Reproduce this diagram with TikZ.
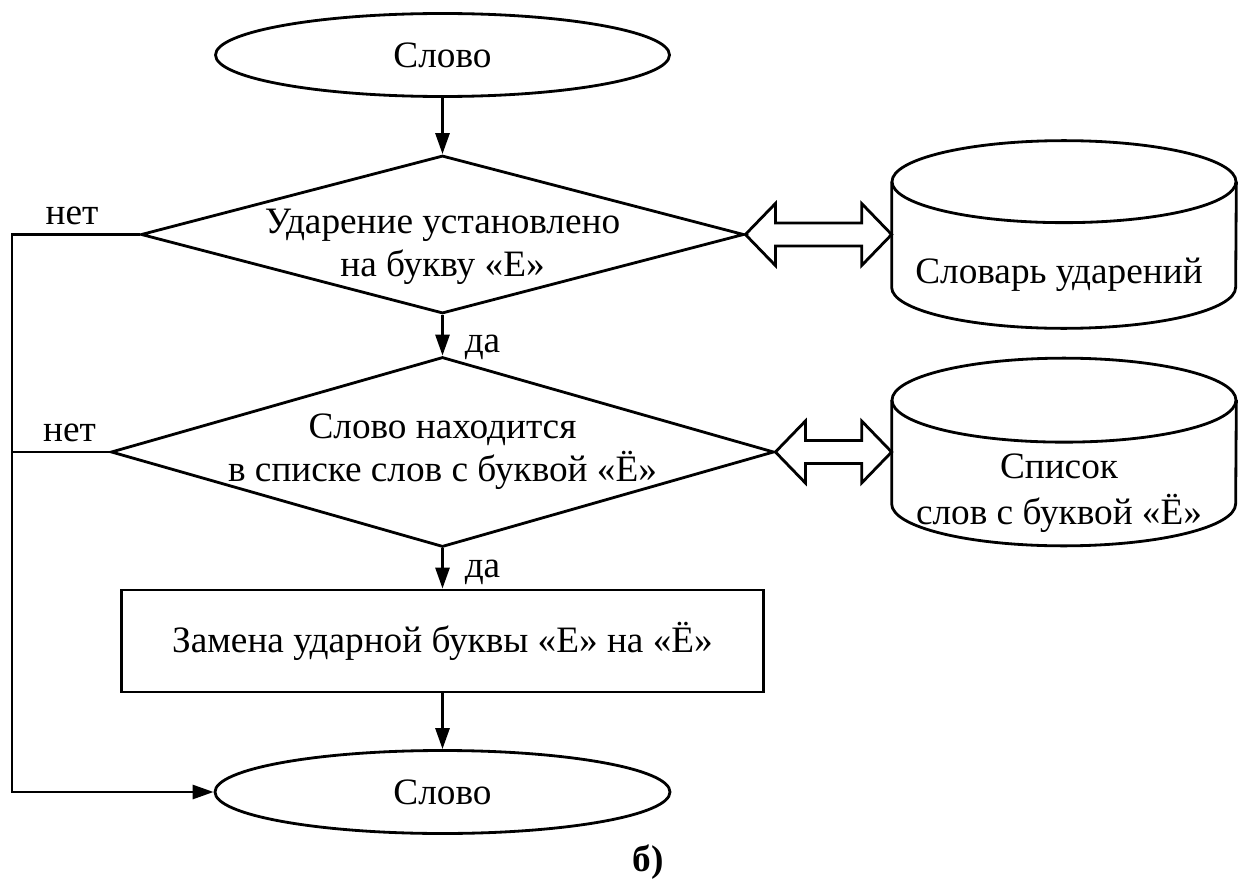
\documentclass[tikz,border=0pt]{standalone}
\usepackage{fontspec}
\setmainfont{Liberation Serif}
\usetikzlibrary{shapes.geometric,arrows.meta,calc}

\begin{document}
\begin{tikzpicture}[
    every node/.style={font=\fontsize{21.2}{24.5}\selectfont},
    term/.style={ellipse, draw, line width=1.6pt, minimum width=9.08cm,
                 minimum height=1.66cm, inner sep=0pt},
    cond/.style={diamond, draw, line width=1.6pt, inner sep=0pt},
    proc/.style={rectangle, draw, line width=1.6pt, minimum width=12.84cm,
                 minimum height=2.04cm},
    store/.style={rectangle, minimum width=6.88cm, inner sep=0pt},
    arr/.style={-{Triangle[length=0.42cm,width=0.28cm]}, line width=1.6pt},
    link/.style={line width=1.6pt, line join=miter}]

    \useasboundingbox (0,0) rectangle (24.76,-17.58);

    % Flow
    \node[term] (start) at (8.85,-1.10) {Слово};
    \node[cond, minimum width=12.06cm, minimum height=3.16cm,
          label={[align=center, yshift=-0.24cm]center:Ударение установлено\\на букву «Е»}]
          (q1) at (8.85,-4.69) {};
    \node[cond, minimum width=13.26cm, minimum height=3.80cm,
          label={[align=center]center:Слово находится\\в списке слов с буквой «Ё»}]
          (q2) at (8.85,-9.04) {};
    \node[proc] (swap) at (8.85,-12.82) {Замена ударной буквы «Е» на «Ё»};
    \node[term, minimum width=9.10cm] (finish) at (8.85,-15.84) {Слово};

    % Stores
    \node[store, minimum height=2.10cm] (db1) at (21.28,-4.69) {};
    \node[store, minimum height=2.06cm] (db2) at (21.28,-9.04) {};
    \draw[link] (db1.north west) -- (db1.south west)
        arc[start angle=180, end angle=360, x radius=3.44cm, y radius=0.82cm]
        -- (db1.north east);
    \draw[link] (db1.north) ellipse[x radius=3.44cm, y radius=0.82cm];
    \draw[link] (db2.north west) -- (db2.south west)
        arc[start angle=180, end angle=360, x radius=3.44cm, y radius=0.84cm]
        -- (db2.north east);
    \draw[link] (db2.north) ellipse[x radius=3.44cm, y radius=0.84cm];
    \node (t1) at ($(db1.center)+(-0.1,-0.80)$) {Словарь ударений};
    \node[align=center] (t2) at ($(db2.center)+(-0.1,-0.82)$)
        {Список\\[2pt]слов с буквой «Ё»};

    % Main arrows
    \draw[arr] (start) -- (q1);
    \draw[arr] (q1) -- (q2) node[pos=0.79, right=0.3cm] {да};
    \draw[arr] (q2) -- (swap) node[pos=0.6, right=0.3cm] {да};
    \draw[arr] (swap) -- (finish);

    % No branches
    \coordinate (rail) at (0.24,-4.69);
    \draw[arr] (q1.west) -- (rail) node[pos=0.53, above=0.05cm] {нет}
        |- (finish.west);
    \draw[link] (q2.west) -- (q2.west -| rail)
        node[pos=0.41, above=0.05cm] {нет};

    % Double arrows
    \draw[link] (q1.east) -- ++(0.6,0.62) -- ++(0,-0.39)
        -- ($(db1.west)+(-0.6,0.23)$) -- ++(0,0.39) -- (db1.west)
        -- ++(-0.6,-0.62) -- ++(0,0.39) -- ($(q1.east)+(0.6,-0.23)$)
        -- ++(0,-0.39) -- cycle;
    \draw[link] (q2.east) -- ++(0.6,0.62) -- ++(0,-0.39)
        -- ($(db2.west)+(-0.6,0.23)$) -- ++(0,0.39) -- (db2.west)
        -- ++(-0.6,-0.62) -- ++(0,0.39) -- ($(q2.east)+(0.6,-0.23)$)
        -- ++(0,-0.39) -- cycle;

    \node[font=\fontsize{21.2}{24.5}\selectfont\bfseries] (cap)
        at (12.96,-17.24) {б)};
\end{tikzpicture}
\end{document}
